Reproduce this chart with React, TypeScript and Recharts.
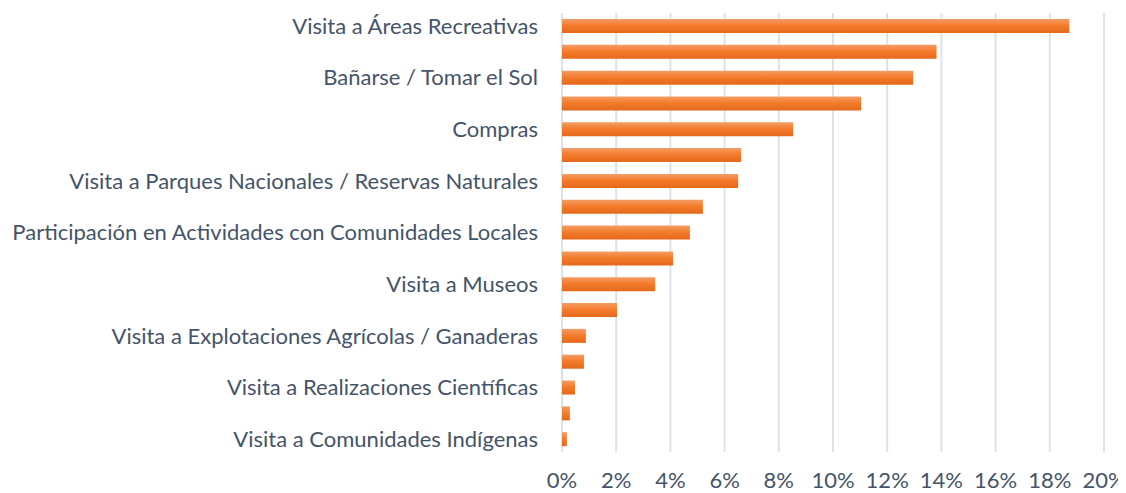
import { BarChart, Bar, XAxis, YAxis, CartesianGrid } from 'recharts';

// categories top to bottom; Excel only labels every other row
const activities = [
    'Visita a Áreas Recreativas',
    '',
    'Bañarse / Tomar el Sol',
    '',
    'Compras',
    '',
    'Visita a Parques Nacionales / Reservas Naturales',
    '',
    'Participación en Actividades con Comunidades Locales',
    '',
    'Visita a Museos',
    '',
    'Visita a Explotaciones Agrícolas / Ganaderas',
    '',
    'Visita a Realizaciones Científicas',
    '',
    'Visita a Comunidades Indígenas',
];

const shares = [18.72, 13.82, 12.96, 11.04, 8.53, 6.61, 6.5, 5.2, 4.72, 4.1, 3.44, 2.03, 0.88, 0.81, 0.48, 0.29, 0.18];

const percentTicks = [0, 2, 4, 6, 8, 10, 12, 14, 16, 18, 20];

const data = activities.map((name, i) => ({ name, value: shares[i] }));

const textColor = '#44546a';
const tickFont = { fontSize: 22, fill: textColor, fontFamily: 'Lato, sans-serif' };

// the page keeps its 8px body margin, so the chart is 8px smaller each way
const App = () => {
    return (
        <div style={{ width: 1118, height: 485, background: '#fff' }}>
            <BarChart
                width={1118}
                height={485}
                data={data}
                layout="vertical"
                margin={{ top: 5, right: 22, bottom: 0, left: 0 }}
            >
                <defs>
                    <linearGradient id="barFill" x1="0" y1="0" x2="0" y2="1">
                        <stop offset="0%" stopColor="#f39d66" />
                        <stop offset="45%" stopColor="#f47c2c" />
                        <stop offset="100%" stopColor="#e5681b" />
                    </linearGradient>
                </defs>
                <CartesianGrid horizontal={false} stroke="#dde1e8" strokeWidth={2} />
                <XAxis
                    type="number"
                    domain={[0, 20]}
                    ticks={percentTicks}
                    tickFormatter={(v) => `${v}%`}
                    axisLine={false}
                    tickLine={false}
                    tickSize={0}
                    tickMargin={20}
                    height={41}
                    tick={tickFont}
                />
                <YAxis
                    type="category"
                    dataKey="name"
                    width={554}
                    interval={1}
                    axisLine={false}
                    tickLine={false}
                    tickSize={0}
                    tickMargin={24}
                    tick={tickFont}
                />
                <Bar dataKey="value" fill="url(#barFill)" barSize={14} isAnimationActive={false} />
            </BarChart>
        </div>
    );
};

export default App;
